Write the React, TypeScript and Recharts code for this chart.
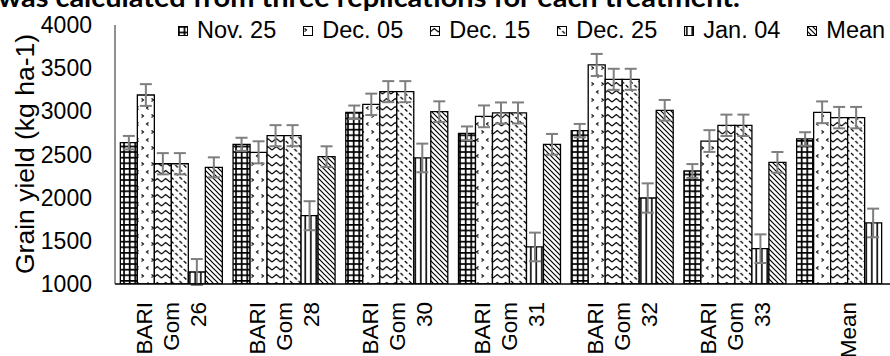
import React from "react";
import { BarChart, Bar, XAxis, YAxis, ErrorBar, Legend } from "recharts";

const FONT = "'Liberation Sans', Arial, sans-serif";

const categories = [
  "BARI Gom 26",
  "BARI Gom 28",
  "BARI Gom 30",
  "BARI Gom 31",
  "BARI Gom 32",
  "BARI Gom 33",
  "Mean",
];

// grain yield (kg/ha) per sowing date
const nov25 = [2637, 2618, 2989, 2745, 2776, 2309, 2680];
const dec05 = [3189, 2525, 3081, 2942, 3537, 2656, 2989];
const dec15 = [2393, 2718, 3228, 2981, 3371, 2838, 2927];
const dec25 = [2393, 2718, 3228, 2981, 3371, 2838, 2927];
const jan04 = [1139, 1791, 2460, 1429, 1996, 1409, 1707];
const mean = [2351, 2475, 2996, 2618, 3012, 2409, null];

// +/- error per bar
const nov25Err = [78, 76, 78, 80, 78, 80, 78];
const dec05Err = [126, 128, 124, 126, 128, 126, 126];
const dec15Err = [123, 122, 122, 122, 122, 124, 124];
const dec25Err = [123, 122, 122, 122, 122, 124, 124];
const jan04Err = [150, 168, 166, 166, 170, 166, 166];
const meanErr = [116, 120, 120, 120, 120, 120, null];

const yTicks = [1000, 1500, 2000, 2500, 3000, 3500, 4000];

const series = [
  { key: "nov25", name: "Nov. 25", values: nov25, err: nov25Err, pattern: "pGrid" },
  { key: "dec05", name: "Dec. 05", values: dec05, err: dec05Err, pattern: "pConfetti" },
  { key: "dec15", name: "Dec. 15", values: dec15, err: dec15Err, pattern: "pWave" },
  { key: "dec25", name: "Dec. 25", values: dec25, err: dec25Err, pattern: "pDash" },
  { key: "jan04", name: "Jan. 04", values: jan04, err: jan04Err, pattern: "pVert" },
  { key: "mean", name: "Mean", values: mean, err: meanErr, pattern: "pDiag" },
];

const data = categories.map((name, i) => {
  const row: Record<string, string | number | null> = { name };
  series.forEach((s) => {
    row[s.key] = s.values[i];
    row[s.key + "Err"] = s.err[i];
  });
  return row;
});

function Patterns() {
  return (
    <defs>
      <pattern id="pGrid" width="5.6" height="5.6" patternUnits="userSpaceOnUse">
        <rect width="5.6" height="5.6" fill="#fff" />
        <rect width="5.6" height="1.7" fill="#000" />
        <rect width="1.7" height="5.6" fill="#000" />
      </pattern>
      <pattern id="pConfetti" width="10" height="16" patternUnits="userSpaceOnUse">
        <rect width="10" height="16" fill="#fff" />
        <path d="M1.5,2.5 L3.5,4 L1.5,5.5" stroke="#000" strokeWidth="1.1" fill="none" />
        <path d="M8.5,10.5 L6.5,12 L8.5,13.5" stroke="#000" strokeWidth="1.1" fill="none" />
      </pattern>
      <pattern id="pWave" width="8.5" height="8" patternUnits="userSpaceOnUse">
        <rect width="8.5" height="8" fill="#fff" />
        <path d="M0,6 L4.25,2.5 L8.5,6" stroke="#000" strokeWidth="1.2" fill="none" />
      </pattern>
      <pattern id="pDash" width="8.5" height="8" patternUnits="userSpaceOnUse">
        <rect width="8.5" height="8" fill="#fff" />
        <path d="M1,1 L3.6,3.5 M5.3,5 L7.9,7.5" stroke="#000" strokeWidth="1.2" fill="none" />
      </pattern>
      <pattern id="pVert" width="5.5" height="5.5" patternUnits="userSpaceOnUse">
        <rect width="5.5" height="5.5" fill="#fff" />
        <rect x="2" width="1.6" height="5.5" fill="#000" />
      </pattern>
      <pattern id="pDiag" width="5" height="5" patternUnits="userSpaceOnUse">
        <rect width="5" height="5" fill="#fff" />
        <path d="M0,0 L5,5 M-1,4 L1,6 M4,-1 L6,1" stroke="#000" strokeWidth="1.2" />
      </pattern>
    </defs>
  );
}

function CategoryTick(props: any) {
  const { x, payload } = props;
  const lines = String(payload.value).split(" ");
  const top = 302;
  return (
    <g>
      {lines.map((line, i) => {
        const cx = x + (i - (lines.length - 1) / 2) * 27;
        return (
          <text
            key={i}
            x={cx}
            y={top}
            dy="0.35em"
            textAnchor="end"
            transform={`rotate(-90, ${cx}, ${top})`}
            fontFamily={FONT}
            fontSize={22.5}
            fill="#000"
          >
            {line}
          </text>
        );
      })}
    </g>
  );
}

function YTitle() {
  return (
    <text
      x={25}
      y={154}
      dy="0.35em"
      textAnchor="middle"
      transform="rotate(-90, 25, 154)"
      fontFamily={FONT}
      fontSize={26.5}
      fill="#000"
    >
      Grain yield (kg ha-1)
    </text>
  );
}

function LegendRow() {
  return (
    <div
      style={{
        display: "flex",
        alignItems: "center",
        fontFamily: FONT,
        fontSize: 23.5,
        lineHeight: "25px",
        whiteSpace: "nowrap",
        color: "#000",
      }}
    >
      {series.map((s) => (
        <div key={s.key} style={{ display: "flex", alignItems: "center", marginRight: 27 }}>
          <svg width={10} height={10} style={{ marginRight: 9 }}>
            <rect x={0.5} y={0.5} width={9} height={9} fill={`url(#${s.pattern})`} stroke="#000" />
          </svg>
          <span>{s.name}</span>
        </div>
      ))}
    </div>
  );
}

export default function App() {
  return (
    <div
      style={{
        position: "fixed",
        left: 0,
        top: 0,
        width: 890,
        height: 356,
        overflow: "hidden",
        background: "#fff",
      }}
    >
      <BarChart
        width={920}
        height={356}
        data={data}
        margin={{ top: 25, right: 16, left: 0, bottom: 0 }}
        barCategoryGap={5.35}
        barGap={0}
      >
        <Patterns />
        <XAxis
          dataKey="name"
          height={72}
          interval={0}
          tickLine={false}
          axisLine={{ stroke: "#000", strokeWidth: 1.6 }}
          tick={<CategoryTick />}
        />
        <YAxis
          width={115}
          domain={[1000, 4000]}
          ticks={yTicks}
          interval={0}
          allowDataOverflow
          tickLine={false}
          tickSize={6}
          tickMargin={17}
          axisLine={{ stroke: "#222", strokeWidth: 1 }}
          tick={{ fontFamily: FONT, fontSize: 23, fill: "#000" }}
          label={<YTitle />}
        />
        <Legend
          verticalAlign="middle"
          align="center"
          layout="horizontal"
          wrapperStyle={{ top: 18, left: 178, width: 720, height: 25 }}
          content={() => <LegendRow />}
        />
        {series.map((s) => (
          <Bar
            key={s.key}
            dataKey={s.key}
            name={s.name}
            fill={`url(#${s.pattern})`}
            stroke="#000"
            strokeWidth={1.3}
            isAnimationActive={false}
          >
            <ErrorBar
              dataKey={s.key + "Err"}
              direction="y"
              width={6}
              stroke="#7f7f7f"
              strokeWidth={2}
              isAnimationActive={false}
            />
          </Bar>
        ))}
      </BarChart>
      <svg
        width={890}
        height={30}
        style={{ position: "absolute", left: 0, top: 0, pointerEvents: "none" }}
      >
        <text
          x={-2}
          y={6.5}
          fontFamily="Lato, 'Open Sans', sans-serif"
          fontWeight="bold"
          fontSize={27}
          textLength={742}
          lengthAdjust="spacingAndGlyphs"
          fill="#000"
        >
          was calculated from three replications for each treatment.
        </text>
      </svg>
    </div>
  );
}
